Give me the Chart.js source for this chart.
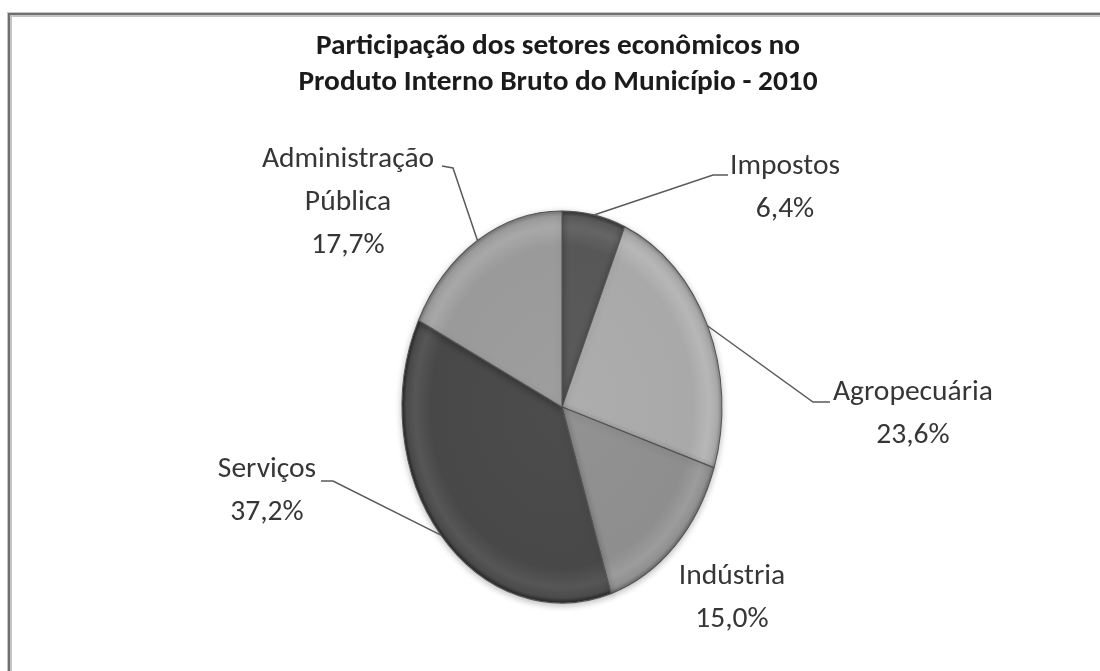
<!DOCTYPE html>
<html>
<head>
<meta charset="utf-8">
<script src="https://cdn.jsdelivr.net/npm/chart.js@4.4.1/dist/chart.umd.min.js"></script>
<style>
  html, body { margin: 0; padding: 0; background: #ffffff; }
  #wrap { position: relative; width: 1100px; height: 671px; }
  canvas { display: block; }
</style>
</head>
<body>
<div id="wrap"><canvas id="c" width="1100" height="671"></canvas></div>
<script>
// ---- data ----
const titleLines = ['Participação dos setores econômicos no', 'Produto Interno Bruto do Município - 2010'];
const categories = ['Impostos', 'Agropecuária', 'Indústria', 'Serviços', 'Administração Pública'];
const values = [6.4, 23.6, 15.0, 37.2, 17.7];
const valueLabels = ['6,4%', '23,6%', '15,0%', '37,2%', '17,7%'];
const categoryLines = [['Impostos'], ['Agropecuária'], ['Indústria'], ['Serviços'], ['Administração', 'Pública']];
const sliceColors = ['#575757', '#a9a9a9', '#8e8e8e', '#484848', '#9a9a9a'];

// ---- layout (positions of label blocks, not data) ----
const ELLIPSE_Y = 196 / 160;
const labelLayout = [
  { x: 785, y: 167, elbow: [713, 175], end: [728, 175] },
  { x: 913, y: 393, elbow: [813, 402], end: [830, 402] },
  { x: 732, y: 577 },
  { x: 267, y: 470, elbow: [333, 481], end: [321, 481] },
  { x: 348, y: 160, elbow: [453, 168], end: [442, 166] }
];
const LINE_H = 43;
const LABEL_FONT = 'Carlito, Lato, "Open Sans", sans-serif';

function shade(hex, amt) {
  const n = parseInt(hex.slice(1), 16);
  let r = (n >> 16) + amt, g = ((n >> 8) & 255) + amt, b = (n & 255) + amt;
  r = Math.max(0, Math.min(255, r)); g = Math.max(0, Math.min(255, g)); b = Math.max(0, Math.min(255, b));
  return 'rgb(' + r + ',' + g + ',' + b + ')';
}

function fitScale(ctx, font, text, targetW) {
  ctx.save(); ctx.font = font; const w = ctx.measureText(text).width; ctx.restore();
  return targetW / w;
}

const framePlugin = {
  id: 'frame',
  beforeDraw(chart) {
    const ctx = chart.ctx;
    ctx.save();
    ctx.fillStyle = '#ffffff';
    ctx.fillRect(0, 0, chart.width, chart.height);
    ctx.fillStyle = '#c4c4c4';
    ctx.fillRect(8, 12, chart.width - 8, 5);
    ctx.fillRect(7, 12, 5, chart.height - 12);
    ctx.fillStyle = '#6f6f6f';
    ctx.fillRect(9, 13, chart.width - 9, 2);
    ctx.fillRect(8, 13, 2, chart.height - 13);
    ctx.restore();
  }
};

const ellipsePlugin = {
  id: 'ellipse',
  beforeDatasetsDraw(chart) {
    const a = chart.chartArea;
    const cx = (a.left + a.right) / 2, cy = (a.top + a.bottom) / 2;
    const ctx = chart.ctx;
    ctx.save();
    ctx.translate(cx, cy);
    ctx.scale(1, ELLIPSE_Y);
    ctx.translate(-cx, -cy);
    ctx.shadowColor = 'rgba(0,0,0,0.25)';
    ctx.shadowBlur = 6;
    ctx.shadowOffsetY = 2;
  },
  afterDatasetsDraw(chart) {
    chart.ctx.restore();
  }
};

const textPlugin = {
  id: 'texts',
  afterDraw(chart) {
    const ctx = chart.ctx;
    // title
    const tFont = 'bold 28px ' + LABEL_FONT;
    const tsx = fitScale(ctx, tFont, titleLines[0], 484);
    ctx.save();
    ctx.font = tFont;
    ctx.fillStyle = '#1b1b1b';
    ctx.textAlign = 'center';
    ctx.textBaseline = 'middle';
    titleLines.forEach((t, i) => {
      ctx.save();
      ctx.translate(558, 47 + i * 36);
      ctx.scale(tsx, 1);
      ctx.fillText(t, 0, 0);
      ctx.restore();
    });
    ctx.restore();

    // data labels + leader lines
    const meta = chart.getDatasetMeta(0);
    const lFont = '29px ' + LABEL_FONT;
    const lsx = fitScale(ctx, lFont, 'Agropecuária', 160);
    meta.data.forEach((arc, i) => {
      const L = labelLayout[i];
      const p = arc.getProps(['x', 'y', 'startAngle', 'endAngle', 'outerRadius'], true);
      const mid = (p.startAngle + p.endAngle) / 2;
      const ax = p.x + Math.cos(mid) * p.outerRadius;
      const ay = p.y + Math.sin(mid) * p.outerRadius * ELLIPSE_Y;
      if (L.elbow) {
        ctx.save();
        ctx.strokeStyle = '#5a5a5a';
        ctx.lineWidth = 1.5;
        ctx.beginPath();
        ctx.moveTo(ax, ay);
        ctx.lineTo(L.elbow[0], L.elbow[1]);
        ctx.lineTo(L.end[0], L.end[1]);
        ctx.stroke();
        ctx.restore();
      }
      const lines = categoryLines[i].concat([valueLabels[i]]);
      ctx.save();
      ctx.font = lFont;
      ctx.fillStyle = '#363636';
      ctx.textAlign = 'center';
      ctx.textBaseline = 'middle';
      lines.forEach((t, k) => {
        ctx.save();
        ctx.translate(L.x, L.y + k * LINE_H);
        ctx.scale(lsx, 1);
        ctx.fillText(t, 0, 0);
        ctx.restore();
      });
      ctx.restore();
    });
  }
};

function sliceFill(context) {
  const chart = context.chart;
  const base = sliceColors[context.dataIndex];
  const a = chart.chartArea;
  if (!a) return base;
  const cx = (a.left + a.right) / 2, cy = (a.top + a.bottom) / 2;
  const g = chart.ctx.createRadialGradient(cx, cy, 0, cx, cy, 160);
  g.addColorStop(0, shade(base, 4));
  g.addColorStop(0.82, base);
  g.addColorStop(0.92, shade(base, 14));
  g.addColorStop(0.975, shade(base, 2));
  g.addColorStop(1, shade(base, -35));
  return g;
}

new Chart(document.getElementById('c'), {
  type: 'pie',
  data: {
    labels: categories,
    datasets: [{
      data: values,
      backgroundColor: sliceFill,
      borderColor: '#555555',
      borderWidth: 1,
      radius: 160
    }]
  },
  options: {
    responsive: false,
    animation: false,
    rotation: 0,
    layout: { padding: { left: 24, right: 0, top: 143, bottom: 0 } },
    plugins: {
      legend: { display: false },
      title: { display: false },
      tooltip: { enabled: false }
    }
  },
  plugins: [framePlugin, ellipsePlugin, textPlugin]
});
</script>
</body>
</html>
